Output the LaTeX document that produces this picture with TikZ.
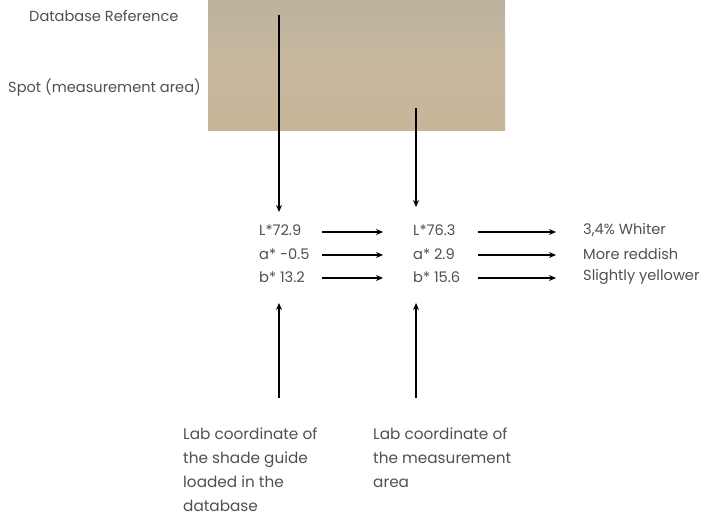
\documentclass[tikz,border=0pt]{standalone}
\usepackage{fontspec}
\setmainfont{Poppins}[Scale=1]
\usetikzlibrary{arrows.meta}
\definecolor{txt}{HTML}{505050}
\definecolor{tantop}{HTML}{BBB39E}
\definecolor{tanmid}{HTML}{C9B89E}
\definecolor{tanbot}{HTML}{C6B598}
\begin{document}
\begin{tikzpicture}[x=1pt,y=-1pt,
  lbl/.style={font=\fontsize{14.6}{24}\selectfont\color{txt}, inner sep=0pt, anchor=west},
  blk/.style={font=\fontsize{15.3}{24}\selectfont\color{txt}, inner sep=0pt, anchor=north west, align=left},
  arr/.style={-{Stealth[length=7pt,width=6pt]}, line width=1.2pt, black}]
\useasboundingbox (0,0) rectangle (711,516);
\shade[top color=tantop, bottom color=tanbot, middle color=tanmid] (208,0) rectangle (505,130);
% top labels
\node[lbl] (dbref) at (29,16) {Database Reference};
\node[lbl] (spot) at (8,88) {Spot (measurement area)};
\coordinate (s1) at (279,15);
\coordinate (s2) at (416,108);
% column 1
\node[lbl] (L1) at (259,230) {L*72.9};
\node[lbl] (a1) at (259,254) {a* -0.5};
\node[lbl] (b1) at (259,277) {b* 13.2};
% column 2
\node[lbl] (L2) at (413,230) {L*76.3};
\node[lbl] (a2) at (413,254) {a* 2.9};
\node[lbl] (b2) at (413,277) {b* 15.6};
% column 3
\node[lbl] (L3) at (583,230) {3,4\% Whiter};
\node[lbl] (a3) at (583,254) {More reddish};
\node[lbl] (b3) at (583,277) {Slightly yellower};
% down arrows
\coordinate (t1) at (279,212);
\coordinate (t2) at (416,207);
\draw[arr] (s1) -- (t1);
\draw[arr] (s2) -- (t2);
% horizontal arrows
\coordinate (h1a) at (322,232); \coordinate (h1b) at (383,232);
\coordinate (h2a) at (322,255); \coordinate (h2b) at (383,255);
\coordinate (h3a) at (322,278); \coordinate (h3b) at (383,278);
\coordinate (k1a) at (478,232); \coordinate (k1b) at (556,232);
\coordinate (k2a) at (478,255); \coordinate (k2b) at (556,255);
\coordinate (k3a) at (478,278); \coordinate (k3b) at (556,278);
\foreach \p in {h1,h2,h3,k1,k2,k3} \draw[arr] (\p a) -- (\p b);
% bottom blocks
\node[blk] (g1) at (183,428) {Lab coordinate of\\the shade guide\\loaded in the\\database};
\node[blk] (g2) at (373,428) {Lab coordinate of\\the measurement\\area};
\coordinate (u1) at (279,398); \coordinate (u2) at (416,398);
\coordinate (v1) at (279,303); \coordinate (v2) at (416,303);
\draw[arr] (u1) -- (v1);
\draw[arr] (u2) -- (v2);
\end{tikzpicture}
\end{document}
